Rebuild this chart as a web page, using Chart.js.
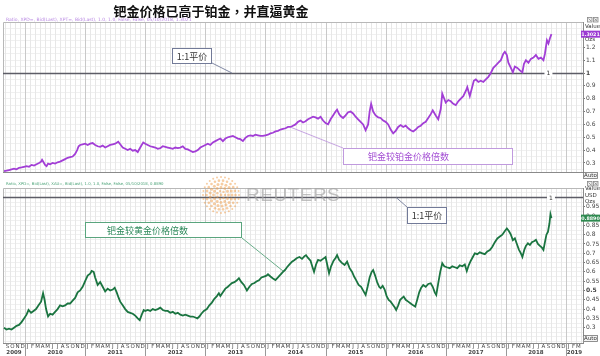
<!DOCTYPE html>
<html><head><meta charset="utf-8">
<script src="https://cdn.jsdelivr.net/npm/chart.js@4.4.1/dist/chart.umd.min.js"></script>
<style>
html,body{margin:0;padding:0;background:#fff}
body{width:600px;height:356px;position:relative;overflow:hidden}
canvas.panel{position:absolute;left:0}
#c1{top:0}
#c2{top:178px}
#title{position:absolute;left:0;top:4px;width:422px;text-align:center;font-weight:bold;font-size:13px;line-height:14px;font-family:"Noto Sans CJK TC","Noto Sans CJK SC",sans-serif;color:#111;z-index:3}
#logo{position:absolute;left:200px;top:174px;z-index:2;pointer-events:none}
#wmtext{position:absolute;left:246px;top:185px;font-family:"Liberation Sans",Arial,sans-serif;font-size:19px;line-height:20px;color:rgba(165,165,165,0.7);letter-spacing:0.5px;z-index:2;pointer-events:none}
</style></head>
<body>
<div id="title" lang="zh-TW">钯金价格已高于铂金，并直逼黄金</div>
<canvas id="c1" class="panel" width="600" height="180"></canvas>
<canvas id="c2" class="panel" width="600" height="178"></canvas>
<canvas id="logo" width="42" height="42"></canvas>
<div id="wmtext">REUTERS</div>
<script>
// ---------- data (x = months since Jan 2009) ----------
const MONTH_LETTERS = ['J','F','M','A','M','J','J','A','S','O','N','D'];
const YEAR_LABELS = ['2009','2010','2011','2012','2013','2014','2015','2016','2017','2018','2019'];
const TOP_Y_TICKS = [0.3,0.4,0.5,0.6,0.7,0.8,0.9,1.0,1.1,1.2];
const BOTTOM_Y_TICKS = [0.3,0.35,0.4,0.45,0.5,0.55,0.6,0.65,0.7,0.75,0.8,0.85,0.9,0.95];

const PD_PT_MONTHS = [7.8,8.3,8.8,9.3,9.8,10.3,10.8,11.3,11.8,12.3,12.8,13.3,13.8,14.3,14.8,15.2,15.4,15.7,16.0,16.3,16.6,17.0,17.5,18.0,18.5,19.0,19.5,20.0,20.5,21.0,21.5,22.0,22.4,22.7,23.0,23.5,24.0,24.5,25.0,25.5,26.0,26.5,27.0,27.5,28.0,28.5,29.0,29.5,30.0,30.6,31.0,31.5,32.0,32.5,33.0,33.5,34.0,34.5,35.0,35.6,36.0,36.5,37.0,37.5,38.0,38.5,39.0,39.5,40.0,40.5,41.0,41.5,42.0,42.5,43.0,43.5,44.0,44.5,45.0,45.5,46.0,46.5,47.0,47.5,48.0,48.5,49.0,49.5,50.0,50.5,51.0,51.5,52.0,52.5,53.0,53.5,54.0,54.5,55.0,55.5,56.0,56.5,57.0,57.5,58.0,58.5,59.0,59.5,60.0,60.5,61.0,61.5,62.0,62.5,63.0,63.5,64.0,64.5,65.0,65.5,66.0,66.5,67.0,67.5,68.0,68.5,69.0,69.5,70.0,70.5,71.0,71.5,72.0,72.5,73.0,73.5,74.0,74.3,74.7,75.0,75.5,76.0,76.5,77.0,77.5,78.0,78.5,79.0,79.5,80.0,80.5,80.8,81.1,81.5,82.0,82.5,83.0,83.5,84.0,84.5,85.0,85.5,86.0,86.5,87.0,87.5,88.0,88.5,89.0,89.5,90.0,90.5,91.0,91.5,92.0,92.5,93.0,93.4,94.0,94.5,95.0,95.3,95.7,96.0,96.5,97.0,97.5,98.0,98.5,99.0,99.5,100.0,100.3,100.8,101.2,101.6,102.0,102.5,103.0,103.5,104.0,104.5,105.0,105.5,106.0,106.5,107.0,107.5,107.8,108.2,108.5,109.0,109.4,109.8,110.3,110.8,111.3,111.6,112.0,112.5,113.0,113.5,114.0,114.5,115.0,115.5,115.8,116.2,116.5,116.8,117.1];
const PD_PT_RATIO = [0.237,0.24,0.245,0.25,0.255,0.25,0.262,0.265,0.27,0.275,0.27,0.285,0.28,0.29,0.30,0.31,0.325,0.305,0.285,0.275,0.295,0.29,0.30,0.295,0.305,0.31,0.32,0.33,0.34,0.345,0.35,0.37,0.40,0.43,0.44,0.445,0.45,0.44,0.45,0.455,0.44,0.43,0.425,0.435,0.42,0.43,0.44,0.445,0.45,0.465,0.445,0.42,0.41,0.40,0.41,0.395,0.40,0.385,0.42,0.46,0.45,0.44,0.43,0.425,0.42,0.41,0.415,0.43,0.425,0.42,0.415,0.41,0.42,0.415,0.42,0.43,0.41,0.405,0.395,0.385,0.39,0.40,0.42,0.43,0.44,0.45,0.44,0.46,0.47,0.48,0.49,0.47,0.49,0.50,0.505,0.51,0.50,0.49,0.485,0.47,0.495,0.51,0.515,0.51,0.52,0.515,0.51,0.51,0.515,0.52,0.53,0.535,0.545,0.55,0.56,0.565,0.57,0.58,0.58,0.59,0.60,0.62,0.63,0.615,0.625,0.64,0.65,0.66,0.655,0.645,0.66,0.63,0.61,0.60,0.64,0.67,0.70,0.715,0.68,0.665,0.65,0.67,0.695,0.70,0.685,0.66,0.64,0.62,0.60,0.555,0.60,0.70,0.76,0.70,0.67,0.655,0.65,0.63,0.62,0.60,0.56,0.53,0.55,0.58,0.595,0.58,0.59,0.57,0.555,0.545,0.56,0.58,0.59,0.61,0.62,0.65,0.68,0.71,0.67,0.64,0.72,0.84,0.80,0.77,0.79,0.78,0.76,0.75,0.78,0.80,0.82,0.86,0.89,0.82,0.88,0.94,0.95,0.93,0.94,0.93,0.95,0.97,1.00,1.04,1.06,1.08,1.10,1.15,1.165,1.14,1.08,1.04,1.005,1.05,1.04,1.02,1.005,1.07,1.10,1.08,1.11,1.12,1.14,1.11,1.12,1.10,1.15,1.255,1.23,1.27,1.3021];

const PD_AU_MONTHS = [7.8,8.3,8.8,9.3,9.8,10.3,10.8,11.3,11.8,12.3,12.7,13.2,13.7,14.2,14.7,15.2,15.6,15.9,16.2,16.6,17.0,17.5,18.0,18.5,19.0,19.5,20.0,20.5,21.0,21.5,22.0,22.5,23.0,23.5,24.0,24.5,25.0,25.3,25.7,26.0,26.5,27.0,27.5,28.0,28.5,29.0,29.5,29.9,30.3,30.7,31.0,31.5,32.0,32.5,33.0,33.5,34.0,34.5,34.9,35.3,35.7,36.0,36.5,37.0,37.5,38.0,38.5,39.0,39.5,40.0,40.5,41.0,41.5,42.0,42.5,43.0,43.5,44.0,44.5,45.0,45.5,46.0,46.4,46.8,47.2,47.7,48.3,48.8,49.3,49.8,50.3,50.7,51.0,51.5,52.0,52.5,52.9,53.3,53.8,54.3,54.7,55.2,55.7,56.3,56.8,57.3,57.8,58.2,58.7,59.2,59.7,60.2,60.5,61.0,61.5,62.0,62.5,63.0,63.5,63.9,64.3,64.8,65.3,65.8,66.3,66.8,67.3,67.8,68.1,68.5,69.0,69.4,69.7,70.1,70.5,71.0,71.5,72.0,72.4,72.7,73.1,73.6,74.0,74.3,74.7,75.2,75.8,76.3,76.8,77.3,77.7,78.1,78.6,79.1,79.6,80.0,80.4,80.8,81.2,81.5,81.9,82.3,82.7,83.0,83.4,83.8,84.2,84.6,85.0,85.4,85.8,86.1,86.5,86.9,87.3,87.6,88.0,88.5,89.0,89.5,89.9,90.3,90.7,91.1,91.5,92.0,92.5,93.0,93.4,93.8,94.1,94.5,94.9,95.3,95.7,96.2,96.8,97.3,97.8,98.3,98.8,99.3,99.8,100.2,100.6,101.0,101.4,101.8,102.3,102.8,103.3,103.8,104.3,104.8,105.3,105.8,106.3,106.8,107.3,107.8,108.2,108.6,109.0,109.4,109.8,110.2,110.6,111.0,111.3,111.7,112.0,112.4,112.8,113.2,113.6,114.0,114.4,114.8,115.2,115.5,115.8,116.1,116.4,116.7,116.9,117.1];
const PD_AU_RATIO = [0.30,0.29,0.295,0.29,0.30,0.31,0.315,0.33,0.35,0.37,0.395,0.38,0.39,0.40,0.42,0.44,0.485,0.45,0.40,0.36,0.375,0.37,0.385,0.40,0.42,0.415,0.42,0.43,0.43,0.445,0.46,0.49,0.50,0.52,0.55,0.58,0.59,0.605,0.60,0.57,0.53,0.545,0.52,0.495,0.51,0.50,0.505,0.515,0.49,0.46,0.44,0.42,0.40,0.385,0.38,0.375,0.365,0.35,0.34,0.37,0.395,0.39,0.395,0.39,0.40,0.395,0.40,0.408,0.395,0.39,0.39,0.38,0.385,0.375,0.38,0.37,0.365,0.37,0.365,0.36,0.36,0.355,0.35,0.36,0.375,0.39,0.40,0.42,0.435,0.455,0.47,0.485,0.47,0.49,0.51,0.52,0.53,0.54,0.545,0.555,0.566,0.545,0.53,0.50,0.52,0.535,0.54,0.548,0.555,0.57,0.575,0.58,0.587,0.575,0.565,0.556,0.57,0.585,0.60,0.61,0.625,0.64,0.655,0.664,0.675,0.68,0.67,0.685,0.69,0.675,0.66,0.625,0.60,0.64,0.665,0.66,0.67,0.68,0.63,0.592,0.63,0.66,0.675,0.69,0.665,0.65,0.637,0.655,0.62,0.60,0.575,0.556,0.53,0.52,0.495,0.476,0.52,0.57,0.60,0.61,0.58,0.545,0.52,0.512,0.525,0.505,0.47,0.449,0.44,0.425,0.41,0.395,0.42,0.45,0.46,0.467,0.45,0.44,0.43,0.42,0.413,0.45,0.49,0.515,0.53,0.52,0.535,0.539,0.52,0.49,0.476,0.54,0.60,0.646,0.63,0.625,0.62,0.63,0.625,0.62,0.635,0.63,0.64,0.605,0.637,0.66,0.68,0.70,0.695,0.705,0.70,0.695,0.71,0.718,0.735,0.76,0.78,0.79,0.80,0.82,0.834,0.82,0.80,0.77,0.78,0.75,0.72,0.70,0.68,0.72,0.74,0.754,0.745,0.76,0.765,0.772,0.75,0.74,0.73,0.718,0.76,0.80,0.815,0.86,0.91,0.889];

const PD_PT_LAST = 1.3021;
const PD_AU_LAST = 0.8890;

// ---------- layout constants ----------
const X_MIN = 7.6, X_MAX = 123.4;
const FONT = '"DejaVu Sans", sans-serif';
const CJK = '"Noto Sans CJK SC", sans-serif';

function isLabeled(list, v){ return list.some(l => Math.abs(l - v) < 1e-6); }

function yScale(min, max, step, labels, fmt){
  return {
    type:'linear', position:'right', min:min, max:max,
    afterBuildTicks: s => {
      const t = [];
      for (let k = Math.ceil(min/step - 1e-9); k * step <= max + 1e-9; k++) t.push({value: Math.round(k*step*1000)/1000});
      s.ticks = t;
    },
    afterFit: s => { s.width = 17; },
    ticks: {
      autoSkip:false, padding:1, color:'#444',
      font: c => ({family:FONT, size:6, weight: (c.tick && (Math.abs(c.tick.value-1)<1e-6 || (labels===BOTTOM_Y_TICKS && Math.abs(c.tick.value-0.5)<1e-6))) ? 'bold' : 'normal'}),
      callback: v => isLabeled(labels, v) ? fmt(v) : ''
    },
    grid: {
      color:'#f0f0f0', lineWidth:1, tickLength:2,
      tickColor: c => (c.tick && isLabeled(labels, c.tick.value)) ? '#777' : 'rgba(0,0,0,0)'
    },
    border: {display:true, color:'#8a8a8a', width:1}
  };
}

function vGrid(chart){
  const {ctx, chartArea:a, scales:{x}} = chart;
  ctx.save();
  ctx.lineWidth = 1;
  for (let m = Math.ceil(X_MIN); m <= X_MAX; m++){
    const px = Math.round(x.getPixelForValue(m)) + 0.5;
    ctx.strokeStyle = (m % 12 === 0) ? '#c9c9c9' : '#e7e7e7';
    ctx.beginPath(); ctx.moveTo(px, a.top); ctx.lineTo(px, a.bottom); ctx.stroke();
  }
  ctx.strokeStyle = '#b8b8b8';
  ctx.beginPath();
  ctx.moveTo(a.left + 0.5, a.bottom); ctx.lineTo(a.left + 0.5, a.top + 0.5); ctx.lineTo(a.right, a.top + 0.5);
  ctx.stroke();
  ctx.strokeStyle = '#8a8a8a';
  ctx.beginPath(); ctx.moveTo(a.left, Math.round(a.bottom) + 0.5); ctx.lineTo(a.right, Math.round(a.bottom) + 0.5); ctx.stroke();
  ctx.restore();
}

function parityLine(chart){
  const {ctx, chartArea:a, scales:{y}} = chart;
  const py = Math.round(y.getPixelForValue(1)) + 0.5;
  ctx.save();
  ctx.strokeStyle = '#5c5c66'; ctx.lineWidth = 1.4;
  ctx.beginPath(); ctx.moveTo(a.left, py); ctx.lineTo(a.right, py); ctx.stroke();
  ctx.restore();
}

function parityTag(chart, t){
  const {ctx, scales:{x, y}} = chart;
  const px = x.getPixelForValue(t), py = y.getPixelForValue(1);
  ctx.save();
  ctx.fillStyle = '#fff'; ctx.fillRect(px - 4, py - 3.5, 8, 7);
  ctx.fillStyle = '#333'; ctx.font = '6px ' + FONT; ctx.textAlign = 'center'; ctx.textBaseline = 'middle';
  ctx.fillText('1', px, py + 0.5);
  ctx.restore();
}

function annotation(chart, box, text, textColor, borderColor, textX, fromX, fromY, anchorT, anchorV){
  const {ctx, scales:{x, y}} = chart;
  ctx.save();
  ctx.strokeStyle = borderColor; ctx.lineWidth = 0.9;
  ctx.beginPath(); ctx.moveTo(fromX, fromY); ctx.lineTo(x.getPixelForValue(anchorT), y.getPixelForValue(anchorV)); ctx.stroke();
  ctx.fillStyle = '#fff'; ctx.fillRect(box.x, box.y, box.w, box.h);
  ctx.lineWidth = 1; ctx.strokeRect(box.x + 0.5, box.y + 0.5, box.w - 1, box.h - 1);
  ctx.font = '9px ' + CJK; ctx.fillStyle = textColor; ctx.textBaseline = 'middle'; ctx.textAlign = 'left';
  const tx = (textX == null) ? box.x + (box.w - ctx.measureText(text).width) / 2 : textX;
  ctx.fillText(text, tx, box.y + box.h / 2 + 0.5);
  ctx.restore();
}

function headerText(ctx, text, x, y, width, color){
  ctx.save();
  ctx.font = '10px ' + FONT;
  const w = ctx.measureText(text).width;
  const size = 10 * width / w;
  ctx.font = size.toFixed(2) + 'px ' + FONT;
  ctx.fillStyle = color; ctx.textBaseline = 'middle'; ctx.textAlign = 'left';
  ctx.fillText(text, x, y);
  ctx.restore();
}

function smallText(ctx, text, x, y, color){
  ctx.save();
  ctx.font = '5.5px ' + FONT; ctx.fillStyle = color || '#333'; ctx.textBaseline = 'middle'; ctx.textAlign = 'left';
  ctx.fillText(text, x, y);
  ctx.restore();
}

function icons(ctx, x, y){
  ctx.save();
  ctx.strokeStyle = '#888'; ctx.fillStyle = '#eee'; ctx.lineWidth = 0.8;
  for (let i = 0; i < 2; i++){
    ctx.fillRect(x + i*6, y, 5, 5); ctx.strokeRect(x + i*6 + 0.5, y + 0.5, 4.5, 4.5);
    ctx.beginPath(); ctx.moveTo(x + i*6 + 1.5, y + 1.5); ctx.lineTo(x + i*6 + 4, y + 4);
    if (i === 1){ ctx.moveTo(x + i*6 + 4, y + 1.5); ctx.lineTo(x + i*6 + 1.5, y + 4); }
    ctx.stroke();
  }
  ctx.restore();
}

function autoBox(ctx, x, y){
  ctx.save();
  ctx.fillStyle = '#f4f4f4'; ctx.fillRect(x, y, 15, 7);
  ctx.strokeStyle = '#777'; ctx.lineWidth = 0.8; ctx.strokeRect(x + 0.5, y + 0.5, 14, 6);
  ctx.font = '5.5px ' + FONT; ctx.fillStyle = '#333'; ctx.textBaseline = 'middle'; ctx.textAlign = 'center';
  ctx.fillText('Auto', x + 7.5, y + 4);
  ctx.restore();
}

function valueBox(chart, v, label, bg){
  const {ctx, scales:{y}} = chart;
  const py = y.getPixelForValue(v);
  ctx.save();
  ctx.fillStyle = bg; ctx.fillRect(581, py - 3.5, 19, 7);
  ctx.font = 'bold 4.8px ' + FONT; ctx.fillStyle = '#fff'; ctx.textBaseline = 'middle'; ctx.textAlign = 'center';
  ctx.fillText(label, 590.5, py + 0.3);
  ctx.restore();
}

const topDecor = {
  id:'topDecor',
  beforeDatasetsDraw(chart){ vGrid(chart); parityLine(chart); },
  afterDatasetsDraw(chart){
    const ctx = chart.ctx;
    parityTag(chart, 116.5);
    annotation(chart, {x:172, y:48, w:40, h:16}, '1:1平价', '#333', '#727a98', null, 212, 63, 53.3, 1.0);
    annotation(chart, {x:343, y:148, w:170, h:17}, '钯金较铂金价格倍数', '#a450d4', '#c09ade', 368, 343, 148, 65.1, 0.577);
    headerText(ctx, 'Ratio, XPD=, Bid(Last), XPT=, Bid(Last), 1.0, 1.0, False, False, 05/10/2018, 1.3021', 6, 20, 186, '#b887e2');
    icons(ctx, 587, 17);
    smallText(ctx, 'Value', 585, 27);
    valueBox(chart, PD_PT_LAST, '1.3021', '#9c3ad2');
    smallText(ctx, 'Ozs', 585, 40);
    autoBox(ctx, 583, 172);
  }
};

const bottomDecor = {
  id:'bottomDecor',
  beforeDatasetsDraw(chart){ vGrid(chart); parityLine(chart); },
  afterDatasetsDraw(chart){
    const ctx = chart.ctx;
    parityTag(chart, 117.0);
    annotation(chart, {x:407, y:29, w:40, h:17}, '1:1平价', '#333', '#727a98', null, 407, 29, 86.1, 1.0);
    annotation(chart, {x:85, y:44, w:157, h:16}, '钯金较黄金价格倍数', '#2f8a5c', '#5aa57e', 107, 242, 60, 63.5, 0.605);
    headerText(ctx, 'Ratio, XPD=, Bid(Last), XAU=, Bid(Last), 1.0, 1.0, False, False, 05/10/2018, 0.8890', 6, 5.5, 158, '#4aa277');
    icons(ctx, 587, 3);
    smallText(ctx, 'Value', 585, 11);
    smallText(ctx, 'USD', 585, 18);
    smallText(ctx, 'Ozs', 585, 24);
    valueBox(chart, PD_AU_LAST, '0.8890', '#2e8a50');
    autoBox(ctx, 583, 157);
  },
  afterDraw(chart){
    const {ctx, chartArea:a, scales:{x}} = chart;
    ctx.save();
    ctx.fillStyle = '#444'; ctx.textAlign = 'center'; ctx.textBaseline = 'middle';
    ctx.font = '5.5px ' + FONT;
    for (let m = Math.ceil(X_MIN); m + 0.5 < X_MAX; m++){
      ctx.fillText(MONTH_LETTERS[m % 12], x.getPixelForValue(m + 0.5), a.bottom + 3.5);
    }
    ctx.font = 'bold 5.5px ' + FONT;
    YEAR_LABELS.forEach((lab, i) => {
      const s = Math.max(i * 12, X_MIN), e = Math.min(i * 12 + 12, X_MAX);
      if (e > s) ctx.fillText(lab, x.getPixelForValue((s + e) / 2), a.bottom + 10);
    });
    ctx.strokeStyle = '#999'; ctx.lineWidth = 1;
    for (let i = 1; i < YEAR_LABELS.length; i++){
      const px = Math.round(x.getPixelForValue(i * 12)) + 0.5;
      ctx.beginPath(); ctx.moveTo(px, a.bottom); ctx.lineTo(px, a.bottom + 13); ctx.stroke();
    }
    ctx.restore();
  }
};

Chart.defaults.font.family = FONT;

function makeChart(id, months, values, color, yOpts, padding, showX, plugin){
  return new Chart(document.getElementById(id), {
    type:'line',
    data:{ datasets:[{
      data: months.map((t, i) => ({x:t, y:values[i]})),
      borderColor: color, borderWidth: 1.8, pointRadius: 0, tension: 0, fill:false
    }]},
    options:{
      responsive:false, animation:false, events:[], parsing:false, normalized:true,
      layout:{ padding: padding },
      plugins:{ legend:{display:false}, tooltip:{enabled:false} },
      scales:{
        x:{ type:'linear', min:X_MIN, max:X_MAX, display: showX,
            ticks:{display:false}, grid:{display:false}, border:{display:false},
            afterFit: s => { s.height = showX ? 13 : 0; } },
        y: yOpts
      }
    },
    plugins:[plugin]
  });
}

makeChart('c1', PD_PT_MONTHS, PD_PT_RATIO, '#a23ed6',
  yScale(0.2296, 1.3969, 0.05, TOP_Y_TICKS, v => (Math.abs(v-1)<1e-6 ? '1' : v.toFixed(1))),
  {left:3, top:22, right:0, bottom:8}, false, topDecor);

makeChart('c2', PD_AU_MONTHS, PD_AU_RATIO, '#1a7440',
  yScale(0.2177, 1.051, 0.025, BOTTOM_Y_TICKS, v => String(parseFloat(v.toFixed(2)))),
  {left:3, top:10, right:0, bottom:0}, true, bottomDecor);

// watermark logo (decorative)
(function(){
  const lc = document.getElementById('logo').getContext('2d');
  lc.fillStyle = 'rgba(240,155,70,0.5)';
  const rings = [[0,1,1.4],[4,7,1.2],[7.5,12,1.4],[11,17,1.5],[14.5,22,1.3],[18,28,1.0]];
  for (const [r, n, s] of rings){
    for (let k = 0; k < n; k++){
      const ang = k / n * 2 * Math.PI;
      lc.beginPath(); lc.arc(21 + r * Math.cos(ang), 21 + r * Math.sin(ang), s, 0, 2 * Math.PI); lc.fill();
    }
  }
})();
</script>
</body></html>
